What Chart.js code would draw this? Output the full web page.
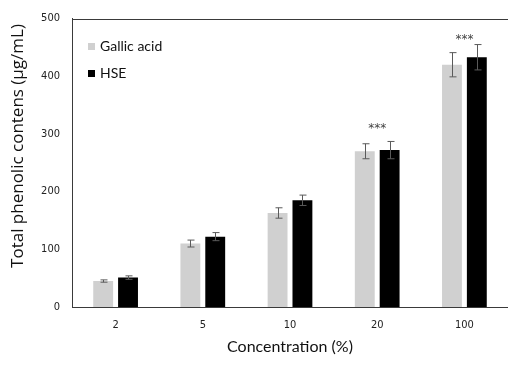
<!DOCTYPE html>
<html>
<head>
<meta charset="utf-8">
<script src="https://cdn.jsdelivr.net/npm/chart.js@4.4.1/dist/chart.umd.min.js"></script>
<style>
html,body{margin:0;padding:0;background:#fff;}
#wrap{position:relative;width:508px;height:370px;}
</style>
</head>
<body>
<div id="wrap"><canvas id="c"></canvas></div>
<script>
// ---- data ----
const categories = ['2', '5', '10', '20', '100'];
const gallicAcid = [45, 110, 163, 270, 420];
const gallicErr  = [2, 6, 9, 13, 21];
const hse        = [51, 122, 185, 272, 433];
const hseErr     = [3, 7, 9, 15, 22];
const sigLabels  = ['', '', '', '***', '***'];
const sigLevel   = [null, null, null, 314, 468];
const yTicks     = [0, 100, 200, 300, 400, 500];
const seriesNames = ['Gallic acid', 'HSE'];

const errs = [gallicErr, hseErr];
const AXIS = '#3a3a3a';
const TICKFONT = {family: '"Liberation Sans Narrow","DejaVu Sans Condensed",sans-serif', size: 11};

const decor = {
  id: 'decor',
  afterDatasetsDraw(chart) {
    const ctx = chart.ctx, y = chart.scales.y, x = chart.scales.x, ca = chart.chartArea;
    ctx.save();
    // error bars
    ctx.strokeStyle = '#5a5a5a';
    ctx.lineWidth = 1;
    chart.data.datasets.forEach((ds, di) => {
      const meta = chart.getDatasetMeta(di);
      meta.data.forEach((bar, i) => {
        const v = ds.data[i], e = errs[di][i];
        const px = Math.round(bar.x) + 0.5;
        const top = y.getPixelForValue(v + e), bot = y.getPixelForValue(v - e);
        ctx.beginPath();
        ctx.moveTo(px, top); ctx.lineTo(px, bot);
        ctx.moveTo(px - 3, top); ctx.lineTo(px + 4, top);
        ctx.moveTo(px - 3, bot); ctx.lineTo(px + 4, bot);
        ctx.stroke();
      });
    });
    // significance stars
    ctx.fillStyle = '#444';
    ctx.font = '12px "DejaVu Sans", sans-serif';
    ctx.textAlign = 'center';
    ctx.textBaseline = 'middle';
    sigLabels.forEach((s, i) => {
      if (!s) return;
      ctx.fillText(s, x.getPixelForValue(i), y.getPixelForValue(sigLevel[i]) + 3);
    });
    // top border
    ctx.strokeStyle = AXIS;
    ctx.beginPath();
    ctx.moveTo(ca.left, Math.round(ca.top) + 0.5);
    ctx.lineTo(chart.width, Math.round(ca.top) + 0.5);
    ctx.stroke();
    // legend
    ctx.font = '14px Lato, "Open Sans", sans-serif';
    ctx.textAlign = 'left';
    ctx.textBaseline = 'middle';
    chart.data.datasets.forEach((ds, di) => {
      const ly = 46 + di * 27;
      ctx.fillStyle = ds.backgroundColor;
      ctx.fillRect(88, ly - 3, 7, 7);
      ctx.fillStyle = '#111';
      ctx.fillText(ds.label, 100, ly);
    });
    // y title
    ctx.save();
    ctx.translate(18, 146);
    ctx.rotate(-Math.PI / 2);
    ctx.font = '17px "Open Sans", sans-serif';
    ctx.textAlign = 'center';
    ctx.textBaseline = 'middle';
    ctx.fillStyle = '#111';
    ctx.fillText('Total phenolic contens (μg/mL)', 0, 0);
    ctx.restore();
    ctx.restore();
  }
};

new Chart(document.getElementById('c'), {
  type: 'bar',
  data: {
    labels: categories,
    datasets: [
      {label: seriesNames[0], data: gallicAcid, backgroundColor: '#d0d0d0'},
      {label: seriesNames[1], data: hse, backgroundColor: '#000000'}
    ]
  },
  options: {
    responsive: true,
    maintainAspectRatio: false,
    animation: false,
    devicePixelRatio: 1,
    layout: {padding: {top: 14, right: 0, left: 0, bottom: 0}},
    datasets: {bar: {categoryPercentage: 0.57, barPercentage: 0.8}},
    plugins: {legend: {display: false}, tooltip: {enabled: false}},
    scales: {
      x: {
        grid: {display: false, drawTicks: false},
        border: {display: true, color: AXIS, width: 1},
        ticks: {color: '#222', font: TICKFONT, padding: 12},
        title: {display: true, text: 'Concentration (%)', color: '#111',
                font: {family: 'Lato, "Open Sans", sans-serif', size: 16}, padding: {top: 4, bottom: 14}},
        afterFit(s) { s.height = 63; }
      },
      y: {
        min: 0, max: 500,
        afterBuildTicks(s) { s.ticks = yTicks.map(v => ({value: v})); },
        grid: {display: false, drawTicks: false},
        border: {display: true, color: AXIS, width: 1},
        ticks: {color: '#222', font: TICKFONT, padding: 12},
        afterFit(s) { s.width = 72; }
      }
    }
  },
  plugins: [decor]
});
</script>
</body>
</html>
